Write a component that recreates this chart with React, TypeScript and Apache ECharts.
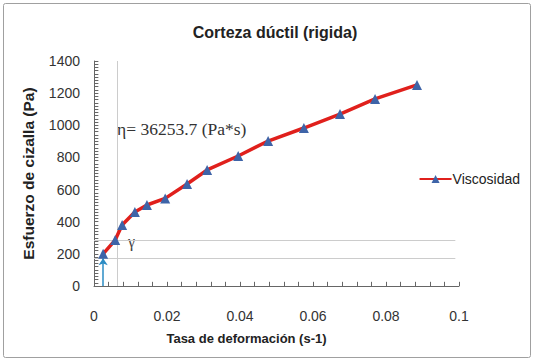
import React, { useEffect, useRef } from "react";
import * as echarts from "echarts";

const shearRate = [0.0025, 0.0058, 0.0077, 0.0112, 0.0145, 0.0195, 0.0255, 0.031, 0.0395, 0.0477, 0.0575, 0.0674, 0.077, 0.0885];
const shearStress = [200, 286, 380, 460, 504, 545, 635, 722, 809, 902, 983, 1070, 1164, 1251];
const seriesName = "Viscosidad";
const refX = 0.0063;
const refYHigh = 286;
const refYLow = 170;
const refXEnd = 0.099;
const arrowX = 0.0025;
const arrowTop = 172;
const xMinorStep = 0.004;
const yMinorStep = 20;

export default function App() {
  const ref = useRef<HTMLDivElement>(null);
  useEffect(() => {
    document.body.style.margin = "0";
    const chart = echarts.init(ref.current!, null, { renderer: "svg" });
    const font = "'Liberation Sans', Arial, sans-serif";
    const tickStyle = { color: "#666", width: 1, type: "solid" };
    const tickLines: any[] = [];
    for (let i = 1; i <= Math.round(1400 / yMinorStep); i++) {
      const v = i * yMinorStep;
      tickLines.push([{ coord: [0, v], lineStyle: tickStyle }, { coord: [0.0012, v], lineStyle: tickStyle }]);
    }
    for (let i = 1; i <= Math.round(0.1 / xMinorStep); i++) {
      const v = i * xMinorStep;
      tickLines.push([{ coord: [v, 0], lineStyle: tickStyle }, { coord: [v, 26], lineStyle: tickStyle }]);
    }
    chart.setOption({
      animation: false,
      backgroundColor: "#fff",
      title: {
        text: "Corteza dúctil (rigida)",
        left: 270,
        textAlign: "center",
        top: 19,
        textStyle: { fontFamily: font, fontWeight: "bold", fontSize: 16, color: "#222" },
      },
      legend: {
        data: [seriesName],
        right: 9,
        top: 167,
        itemWidth: 32,
        itemHeight: 10,
        itemGap: 2,
        textStyle: { fontFamily: font, fontSize: 14, color: "#222", padding: [0, 0, 0, -4] },
      },
      grid: { left: 94, right: 75, top: 61, bottom: 76, containLabel: false },
      xAxis: {
        type: "value",
        min: 0,
        max: 0.1,
        interval: 0.02,
        name: "Tasa de deformación (s-1)",
        nameLocation: "middle",
        nameGap: 46,
        nameTextStyle: { fontFamily: font, fontWeight: "bold", fontSize: 13, color: "#222", padding: [0, 60, 0, 0] },
        axisLine: { show: true, onZero: false, lineStyle: { color: "#666", width: 1 } },
        axisTick: { show: false },
        axisLabel: { fontFamily: font, fontSize: 14, color: "#333", margin: 23, formatter: (v: number) => String(parseFloat(v.toFixed(2))) },
        splitLine: { show: false },
      },
      yAxis: {
        type: "value",
        min: 0,
        max: 1400,
        interval: 200,
        name: "Esfuerzo de cizalla (Pa)",
        nameLocation: "middle",
        nameGap: 58,
        nameTextStyle: { fontFamily: font, fontWeight: "bold", fontSize: 15.5, color: "#222" },
        axisLine: { show: true, onZero: false, lineStyle: { color: "#666", width: 1 } },
        axisTick: { show: false },
        axisLabel: { fontFamily: font, fontSize: 14, color: "#333", margin: 14, formatter: (v: number) => String(v) },
        splitLine: { show: false },
      },
      series: [
        {
          name: seriesName,
          type: "line",
          data: shearRate.map((x, i) => [x, shearStress[i]]),
          symbol: "triangle",
          symbolSize: 10,
          itemStyle: { color: "#3E64A8" },
          lineStyle: { color: "#E0201C", width: 3.5 },
          z: 5,
          markLine: {
            silent: true,
            symbol: "none",
            animation: false,
            label: { show: false },
            emphasis: { disabled: true },
            lineStyle: { color: "#CCCCCC", width: 1, type: "solid" },
            data: [
              [{ coord: [refX, 0] }, { coord: [refX, 1400] }],
              [{ coord: [0, refYHigh] }, { coord: [refXEnd, refYHigh] }],
              [{ coord: [0, refYLow] }, { coord: [refXEnd, refYLow] }],
              ...tickLines,
              [
                { coord: [arrowX, 0], symbol: "none", lineStyle: { color: "#2B8CC4", width: 1.5 } },
                { coord: [arrowX, arrowTop], symbol: "arrow", symbolSize: 7, lineStyle: { color: "#2B8CC4", width: 1.5 } },
              ],
            ],
          },
        },
      ],
      graphic: [
        {
          type: "rect",
          shape: { x: 3.5, y: 3.5, width: 527, height: 354, r: 2 },
          style: { fill: "none", stroke: "#A0A0A0", lineWidth: 1 },
          silent: true,
        },
        {
          type: "text",
          left: 117,
          top: 120,
          style: { text: "η= 36253.7 (Pa*s)", fontFamily: "'Liberation Serif', 'DejaVu Serif', serif", fontSize: 17.5, fill: "#333" },
        },
        {
          type: "text",
          left: 128,
          top: 233,
          style: { text: "γ", fontFamily: "'Liberation Serif', 'DejaVu Serif', serif", fontSize: 16, fill: "#444" },
        },
      ],
    });
    return () => chart.dispose();
  }, []);
  return <div ref={ref} style={{ width: 534, height: 362 }} />;
}
